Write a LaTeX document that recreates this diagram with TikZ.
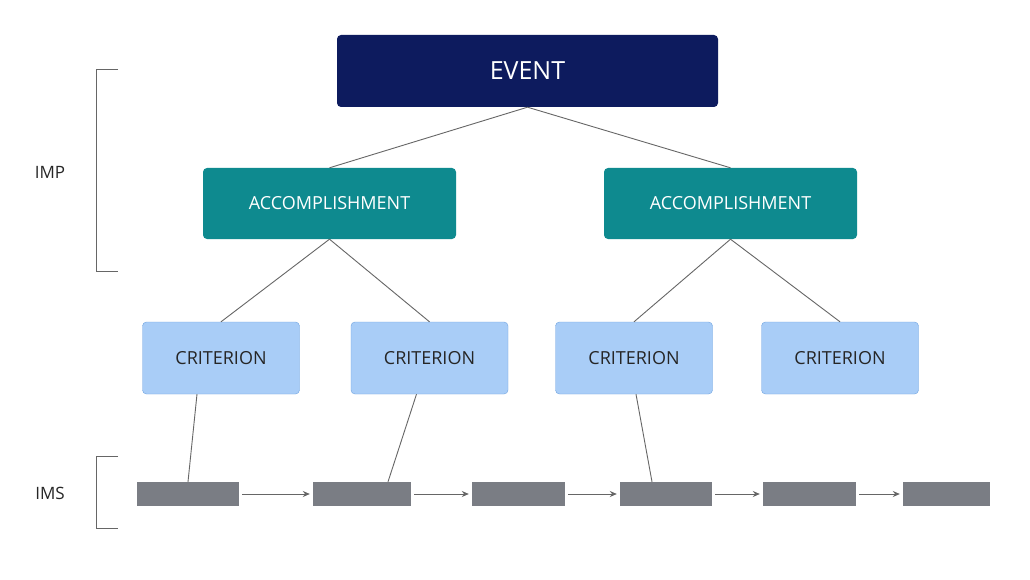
\documentclass[tikz,border=0pt]{standalone}
\usepackage{fontspec}
\setmainfont{Open Sans}
\usetikzlibrary{arrows.meta}
\definecolor{navy}{HTML}{0D1B5E}
\definecolor{teal2}{HTML}{0E8A8F}
\definecolor{critf}{HTML}{A9CDF7}
\definecolor{critd}{HTML}{6FA3E0}
\definecolor{bar}{HTML}{7A7D84}
\definecolor{ln}{HTML}{666666}
\begin{document}
\begin{tikzpicture}[x=1pt,y=-1pt,
 box/.style={rounded corners=4pt,inner sep=0pt},
 ev/.style={box,fill=navy,text=white,minimum width=381pt,minimum height=72pt,font=\fontsize{25}{28}\selectfont},
 acc/.style={box,fill=teal2,text=white,minimum width=253pt,minimum height=71pt,font=\fontsize{18}{22}\selectfont},
 cr/.style={box,fill=critf,draw=critd,text=black!85,minimum width=157pt,minimum height=72pt,font=\fontsize{18}{22}\selectfont},
 br/.style={fill=bar,inner sep=0pt,minimum height=24pt},
 con/.style={draw=ln,line width=0.9pt},
 arr/.style={con,-{Stealth[length=7pt,width=6pt]}},
 lab/.style={font=\fontsize{17}{20}\selectfont,text=black!85}]
\useasboundingbox[fill=white] (0,0) rectangle (1030,580);
\node[ev] (ev) at (527.5,71) {EVENT};
\node[acc] (a1) at (329.5,203.5) {ACCOMPLISHMENT};
\node[acc] (a2) at (730.5,203.5) {ACCOMPLISHMENT};
\node[cr] (c1) at (221,358) {CRITERION};
\node[cr] (c2) at (429.5,358) {CRITERION};
\node[cr] (c3) at (634,358) {CRITERION};
\node[cr] (c4) at (840,358) {CRITERION};
\node[br,minimum width=102pt] (b1) at (188,494) {};
\node[br,minimum width=98pt] (b2) at (362,494) {};
\node[br,minimum width=93pt] (b3) at (518.5,494) {};
\node[br,minimum width=92pt] (b4) at (666,494) {};
\node[br,minimum width=93pt] (b5) at (809.5,494) {};
\node[br,minimum width=87pt] (b6) at (946.5,494) {};
\draw[con] (ev.south) -- (a1.north);
\draw[con] (ev.south) -- (a2.north);
\draw[con] (a1.south) -- (c1.north);
\draw[con] (a1.south) -- (c2.north);
\draw[con] (a2.south) -- (c3.north);
\draw[con] (a2.south) -- (c4.north);
\draw[con] ([xshift=-24pt]c1.south) -- (b1.north);
\draw[con] ([xshift=-13pt]c2.south) -- ([xshift=26pt]b2.north);
\draw[con] ([xshift=2pt]c3.south) -- ([xshift=-14pt]b4.north);
\foreach \a/\b in {b1/b2,b2/b3,b3/b4,b4/b5,b5/b6}
  \draw[arr] ([xshift=3pt]\a.east) -- ([xshift=-3pt]\b.west);
\coordinate (p1) at (118,69); \coordinate (p2) at (96,69);
\coordinate (p3) at (96,271); \coordinate (p4) at (118,271);
\draw[con] (p1) -- (p2) -- (p3) -- (p4);
\coordinate (q1) at (118,456); \coordinate (q2) at (96,456);
\coordinate (q3) at (96,528); \coordinate (q4) at (118,528);
\draw[con] (q1) -- (q2) -- (q3) -- (q4);
\node[lab] (imp) at (50,172) {IMP};
\node[lab] (ims) at (50,493) {IMS};
\end{tikzpicture}
\end{document}
